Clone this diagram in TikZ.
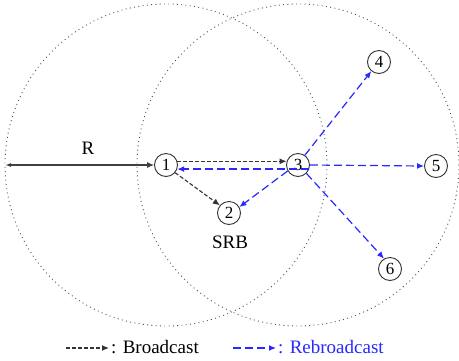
\documentclass[tikz,border=0pt]{standalone}
\usepackage{fontspec}
\setmainfont{Liberation Serif}
\usetikzlibrary{arrows.meta}
\definecolor{rbblue}{RGB}{40,40,255}
\begin{document}
\begin{tikzpicture}[x=1pt,y=-1pt,
  nd/.style={circle,draw=black!80,line width=0.9pt,minimum size=23pt,inner sep=0pt,font=\fontsize{17}{17}\selectfont},
  lbl/.style={font=\fontsize{19}{19}\selectfont,inner sep=0pt},
  rangecirc/.style={draw=black!70,line width=0.9pt,dash pattern=on 0.9pt off 3.4pt},
  bc/.style={draw=black!80,line width=1.1pt,dash pattern=on 4pt off 2pt,-{Latex[length=7pt,width=6pt]}},
  rbc/.style={draw=rbblue,line width=1.2pt,dash pattern=on 8pt off 4pt,-{Latex[length=7pt,width=6pt]}}]
\useasboundingbox (0,0) rectangle (459,360);
\node[nd] (n1) at (166,165) {1};
\node[nd] (n2) at (229,213) {2};
\node[nd] (n3) at (298,165) {3};
\node[nd] (n4) at (379,62) {4};
\node[nd] (n5) at (436,166) {5};
\node[nd] (n6) at (390,269) {6};
\node[lbl] (srb) at (230,242) {SRB};
\node[lbl] (r) at (88,148) {R};
\draw[rangecirc] (166,165) circle (161);
\draw[rangecirc] (298,165) circle (161);
\coordinate (rl) at (5,165);
\draw[black!75,line width=1.1pt,{Latex[length=6pt,width=4pt]}-{Latex[length=7pt,width=6pt]}] (rl) -- (n1.west);
\draw[bc] (n1.18) -- (n3.162);
\draw[rbc] (n3.-20) -- (n1.-20);
\draw[bc] (n1.-40) -- (n2.140);
\draw[rbc] (n3.-150) -- (n2.30);
\draw[rbc] (n3.55) -- (n4.-130);
\draw[rbc] (n3.east) -- (n5.west);
\draw[rbc] (n3.-45) -- (n6.120);
% legend
\coordinate (la) at (66,348);
\coordinate (lb) at (109,348);
\draw[bc] (la) -- (lb);
\node[lbl,anchor=west] (lt1) at (111,347) {: Broadcast};
\coordinate (lc) at (233,348);
\coordinate (ld) at (276,348);
\draw[rbc] (lc) -- (ld);
\node[lbl,anchor=west,text=rbblue] (lt2) at (278,347) {: Rebroadcast};
\end{tikzpicture}
\end{document}
